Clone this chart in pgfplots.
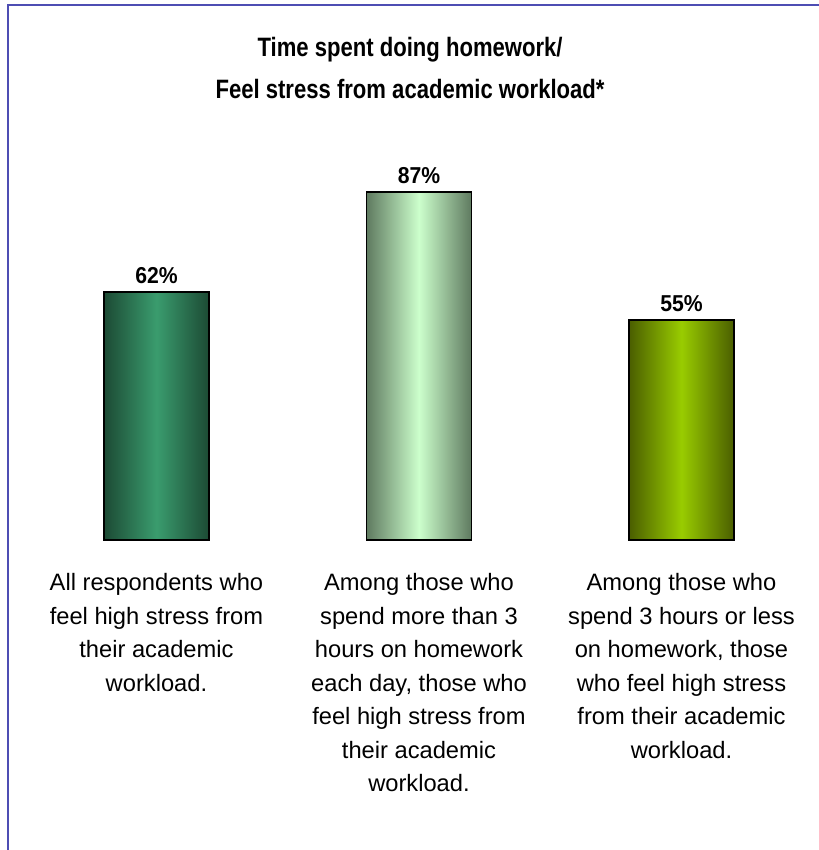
\documentclass[border=0pt]{standalone}
\usepackage{pgfplots}
\pgfplotsset{compat=1.18}
\usepackage{fontspec}
\setmainfont{Liberation Sans}
\newfontfamily\titlefont[FakeStretch=0.83]{Liberation Sans}
\newfontfamily\valfont[FakeStretch=0.92]{Liberation Sans}

\definecolor{frameblue}{RGB}{77,77,179}
\definecolor{gAedge}{RGB}{28,74,52}
\definecolor{gAmid}{RGB}{58,156,110}
\definecolor{gBedge}{RGB}{95,122,96}
\definecolor{gBmid}{RGB}{204,255,204}
\definecolor{gCedge}{RGB}{74,94,0}
\definecolor{gCmid}{RGB}{153,204,0}

\pgfplotsset{
  valbar/.style={ybar, bar shift=0pt, bar width=52.5pt, draw=black, line width=0.6pt,
    /pgf/number format/assume math mode=true,
    nodes near coords={\pgfmathprintnumber{\pgfplotspointmeta}\%},
    every node near coord/.append style={anchor=base, yshift=4pt, inner sep=0pt,
      font=\valfont\bfseries\fontsize{11.5}{13}\selectfont, text=black}},
}
\tikzset{
  catlabel/.style={anchor=north, inner sep=0pt, align=center,
    font=\fontsize{11.85}{16.75}\selectfont},
}

\begin{document}
\begin{tikzpicture}
\begin{axis}[
    name=ax,
    width=409pt, height=425pt,
    scale only axis,
    xmin=-0.596, xmax=2.52,
    ymin=-77.5, ymax=135,
    hide axis,
    clip=false,
]
\addplot[valbar, left color=gAedge, right color=gAedge, middle color=gAmid] coordinates {(0,62)};
\addplot[valbar, left color=gBedge, right color=gBedge, middle color=gBmid] coordinates {(1,87)};
\addplot[valbar, left color=gCedge, right color=gCedge, middle color=gCmid] coordinates {(2,55)};

\node[anchor=north, inner sep=0pt, align=center,
      font=\titlefont\bfseries\fontsize{13.3}{21}\selectfont]
  at (axis cs:0.966,125.9) {Time spent doing homework/\\Feel stress from academic workload*};

\node[catlabel] at (axis cs:0,-8.25) {All respondents who\\feel high stress from\\their academic\\workload.};
\node[catlabel] at (axis cs:1,-8.25) {Among those who\\spend more than 3\\hours on homework\\each day, those who\\feel high stress from\\their academic\\workload.};
\node[catlabel] at (axis cs:2,-8.25) {Among those who\\spend 3 hours or less\\on homework, those\\who feel high stress\\from their academic\\workload.};

\draw[frameblue, line width=1.3pt]
  (rel axis cs:0.0098,-0.2) -- (rel axis cs:0.0098,0.9941) -- (rel axis cs:1.2,0.9941);
\end{axis}
\pgfresetboundingbox
\path[use as bounding box] (ax.south west) rectangle (ax.north east);
\end{tikzpicture}
\end{document}
